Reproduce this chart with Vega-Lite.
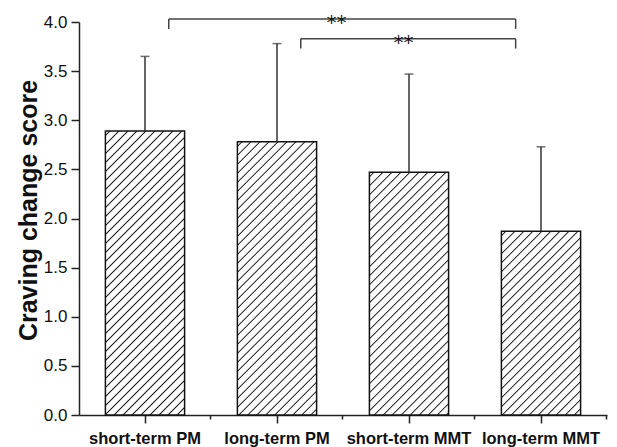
{
  "$schema": "https://vega.github.io/schema/vega-lite/v6.json",
  "width": 528,
  "height": 393,
  "autosize": "none",
  "padding": {"left": 79, "top": 22, "right": 10, "bottom": 32},
  "background": "white",
  "config": {"view": {"stroke": null}, "font": "Liberation Sans"},
  "datasets": {
    "bars": [
      {"group": "short-term PM", "mean": 2.89, "upper": 3.65},
      {"group": "long-term PM", "mean": 2.78, "upper": 3.78},
      {"group": "short-term MMT", "mean": 2.47, "upper": 3.47},
      {"group": "long-term MMT", "mean": 1.87, "upper": 2.73}
    ],
    "brackets": [
      {"id": 1, "from": "short-term PM", "to": "long-term MMT", "level": 4.03, "end": 3.93, "label": "**"},
      {"id": 2, "from": "long-term PM", "to": "long-term MMT", "level": 3.83, "end": 3.73, "label": "**"}
    ]
  },
  "resolve": {"axis": {"x": "independent"}},
  "layer": [
    {
      "data": {"name": "bars"},
      "mark": {"type": "bar", "stroke": "#111", "strokeWidth": 1.5},
      "encoding": {
        "x": {
          "field": "group", "type": "nominal", "sort": null,
          "scale": {"domain": ["short-term PM", "long-term PM", "short-term MMT", "long-term MMT"], "paddingInner": 0.4, "paddingOuter": 0.2},
          "axis": {"orient": "bottom", "title": null, "labelAngle": 0, "labelFont": "Liberation Sans", "labelFontWeight": "bold", "labelFontSize": 16.5, "labelColor": "#111", "labelPadding": 7, "tickSize": 8, "tickWidth": 1.5, "tickColor": "#222", "domainColor": "#222", "domainWidth": 1.5, "grid": false}
        },
        "y": {
          "field": "mean", "type": "quantitative",
          "scale": {"domain": [0, 4]},
          "axis": {
            "title": "Craving change score", "titleFont": "Liberation Sans", "titleFontSize": 25, "titleFontWeight": "bold", "titleColor": "#111", "titlePadding": 2, "titleY": 188,
            "values": [0, 0.25, 0.5, 0.75, 1, 1.25, 1.5, 1.75, 2, 2.25, 2.5, 2.75, 3, 3.25, 3.5, 3.75, 4],
            "labelExpr": "datum.value % 0.5 === 0 ? format(datum.value, '.1f') : ''",
            "labelFontSize": 17, "labelColor": "#111", "labelPadding": 4, "labelFont": "Liberation Sans",
            "tickSize": {"condition": {"test": "datum.value % 0.5 === 0", "value": 8}, "value": 4},
            "tickWidth": 1.5, "tickColor": "#222", "domainColor": "#222", "domainWidth": 1.5, "grid": false
          }
        },
        "fill": {
          "condition": [
            {"test": "datum.group === 'short-term PM'", "value": {"gradient": "linear", "x1": 0, "y1": 0, "x2": 0.4103, "y2": 1.4706, "stops": [{"offset":0,"color":"#fff"},{"offset":0.007,"color":"#fff"},{"offset":0.01,"color":"#1a1a1a"},{"offset":0.013,"color":"#fff"},{"offset":0.027,"color":"#fff"},{"offset":0.03,"color":"#1a1a1a"},{"offset":0.033,"color":"#fff"},{"offset":0.047,"color":"#fff"},{"offset":0.05,"color":"#1a1a1a"},{"offset":0.053,"color":"#fff"},{"offset":0.067,"color":"#fff"},{"offset":0.07,"color":"#1a1a1a"},{"offset":0.073,"color":"#fff"},{"offset":0.087,"color":"#fff"},{"offset":0.09,"color":"#1a1a1a"},{"offset":0.093,"color":"#fff"},{"offset":0.107,"color":"#fff"},{"offset":0.11,"color":"#1a1a1a"},{"offset":0.113,"color":"#fff"},{"offset":0.127,"color":"#fff"},{"offset":0.13,"color":"#1a1a1a"},{"offset":0.133,"color":"#fff"},{"offset":0.147,"color":"#fff"},{"offset":0.15,"color":"#1a1a1a"},{"offset":0.153,"color":"#fff"},{"offset":0.167,"color":"#fff"},{"offset":0.17,"color":"#1a1a1a"},{"offset":0.173,"color":"#fff"},{"offset":0.187,"color":"#fff"},{"offset":0.19,"color":"#1a1a1a"},{"offset":0.193,"color":"#fff"},{"offset":0.207,"color":"#fff"},{"offset":0.21,"color":"#1a1a1a"},{"offset":0.213,"color":"#fff"},{"offset":0.227,"color":"#fff"},{"offset":0.23,"color":"#1a1a1a"},{"offset":0.233,"color":"#fff"},{"offset":0.247,"color":"#fff"},{"offset":0.25,"color":"#1a1a1a"},{"offset":0.253,"color":"#fff"},{"offset":0.267,"color":"#fff"},{"offset":0.27,"color":"#1a1a1a"},{"offset":0.273,"color":"#fff"},{"offset":0.287,"color":"#fff"},{"offset":0.29,"color":"#1a1a1a"},{"offset":0.293,"color":"#fff"},{"offset":0.307,"color":"#fff"},{"offset":0.31,"color":"#1a1a1a"},{"offset":0.313,"color":"#fff"},{"offset":0.327,"color":"#fff"},{"offset":0.33,"color":"#1a1a1a"},{"offset":0.333,"color":"#fff"},{"offset":0.347,"color":"#fff"},{"offset":0.35,"color":"#1a1a1a"},{"offset":0.353,"color":"#fff"},{"offset":0.367,"color":"#fff"},{"offset":0.37,"color":"#1a1a1a"},{"offset":0.373,"color":"#fff"},{"offset":0.387,"color":"#fff"},{"offset":0.39,"color":"#1a1a1a"},{"offset":0.393,"color":"#fff"},{"offset":0.407,"color":"#fff"},{"offset":0.41,"color":"#1a1a1a"},{"offset":0.413,"color":"#fff"},{"offset":0.427,"color":"#fff"},{"offset":0.43,"color":"#1a1a1a"},{"offset":0.433,"color":"#fff"},{"offset":0.447,"color":"#fff"},{"offset":0.45,"color":"#1a1a1a"},{"offset":0.453,"color":"#fff"},{"offset":0.467,"color":"#fff"},{"offset":0.47,"color":"#1a1a1a"},{"offset":0.473,"color":"#fff"},{"offset":0.487,"color":"#fff"},{"offset":0.49,"color":"#1a1a1a"},{"offset":0.493,"color":"#fff"},{"offset":0.507,"color":"#fff"},{"offset":0.51,"color":"#1a1a1a"},{"offset":0.513,"color":"#fff"},{"offset":0.527,"color":"#fff"},{"offset":0.53,"color":"#1a1a1a"},{"offset":0.533,"color":"#fff"},{"offset":0.547,"color":"#fff"},{"offset":0.55,"color":"#1a1a1a"},{"offset":0.553,"color":"#fff"},{"offset":0.567,"color":"#fff"},{"offset":0.57,"color":"#1a1a1a"},{"offset":0.573,"color":"#fff"},{"offset":0.587,"color":"#fff"},{"offset":0.59,"color":"#1a1a1a"},{"offset":0.593,"color":"#fff"},{"offset":0.607,"color":"#fff"},{"offset":0.61,"color":"#1a1a1a"},{"offset":0.613,"color":"#fff"},{"offset":0.627,"color":"#fff"},{"offset":0.63,"color":"#1a1a1a"},{"offset":0.633,"color":"#fff"},{"offset":0.647,"color":"#fff"},{"offset":0.65,"color":"#1a1a1a"},{"offset":0.653,"color":"#fff"},{"offset":0.667,"color":"#fff"},{"offset":0.67,"color":"#1a1a1a"},{"offset":0.673,"color":"#fff"},{"offset":0.687,"color":"#fff"},{"offset":0.69,"color":"#1a1a1a"},{"offset":0.693,"color":"#fff"},{"offset":0.707,"color":"#fff"},{"offset":0.71,"color":"#1a1a1a"},{"offset":0.713,"color":"#fff"},{"offset":0.727,"color":"#fff"},{"offset":0.73,"color":"#1a1a1a"},{"offset":0.733,"color":"#fff"},{"offset":0.747,"color":"#fff"},{"offset":0.75,"color":"#1a1a1a"},{"offset":0.753,"color":"#fff"},{"offset":0.767,"color":"#fff"},{"offset":0.77,"color":"#1a1a1a"},{"offset":0.773,"color":"#fff"},{"offset":0.787,"color":"#fff"},{"offset":0.79,"color":"#1a1a1a"},{"offset":0.793,"color":"#fff"},{"offset":0.807,"color":"#fff"},{"offset":0.81,"color":"#1a1a1a"},{"offset":0.813,"color":"#fff"},{"offset":1,"color":"#fff"}]}},
            {"test": "datum.group === 'long-term PM'", "value": {"gradient": "linear", "x1": 0, "y1": 0, "x2": 0.4408, "y2": 1.5199, "stops": [{"offset":0,"color":"#fff"},{"offset":0.007,"color":"#fff"},{"offset":0.01,"color":"#1a1a1a"},{"offset":0.013,"color":"#fff"},{"offset":0.027,"color":"#fff"},{"offset":0.03,"color":"#1a1a1a"},{"offset":0.033,"color":"#fff"},{"offset":0.047,"color":"#fff"},{"offset":0.05,"color":"#1a1a1a"},{"offset":0.053,"color":"#fff"},{"offset":0.067,"color":"#fff"},{"offset":0.07,"color":"#1a1a1a"},{"offset":0.073,"color":"#fff"},{"offset":0.087,"color":"#fff"},{"offset":0.09,"color":"#1a1a1a"},{"offset":0.093,"color":"#fff"},{"offset":0.107,"color":"#fff"},{"offset":0.11,"color":"#1a1a1a"},{"offset":0.113,"color":"#fff"},{"offset":0.127,"color":"#fff"},{"offset":0.13,"color":"#1a1a1a"},{"offset":0.133,"color":"#fff"},{"offset":0.147,"color":"#fff"},{"offset":0.15,"color":"#1a1a1a"},{"offset":0.153,"color":"#fff"},{"offset":0.167,"color":"#fff"},{"offset":0.17,"color":"#1a1a1a"},{"offset":0.173,"color":"#fff"},{"offset":0.187,"color":"#fff"},{"offset":0.19,"color":"#1a1a1a"},{"offset":0.193,"color":"#fff"},{"offset":0.207,"color":"#fff"},{"offset":0.21,"color":"#1a1a1a"},{"offset":0.213,"color":"#fff"},{"offset":0.227,"color":"#fff"},{"offset":0.23,"color":"#1a1a1a"},{"offset":0.233,"color":"#fff"},{"offset":0.247,"color":"#fff"},{"offset":0.25,"color":"#1a1a1a"},{"offset":0.253,"color":"#fff"},{"offset":0.267,"color":"#fff"},{"offset":0.27,"color":"#1a1a1a"},{"offset":0.273,"color":"#fff"},{"offset":0.287,"color":"#fff"},{"offset":0.29,"color":"#1a1a1a"},{"offset":0.293,"color":"#fff"},{"offset":0.307,"color":"#fff"},{"offset":0.31,"color":"#1a1a1a"},{"offset":0.313,"color":"#fff"},{"offset":0.327,"color":"#fff"},{"offset":0.33,"color":"#1a1a1a"},{"offset":0.333,"color":"#fff"},{"offset":0.347,"color":"#fff"},{"offset":0.35,"color":"#1a1a1a"},{"offset":0.353,"color":"#fff"},{"offset":0.367,"color":"#fff"},{"offset":0.37,"color":"#1a1a1a"},{"offset":0.373,"color":"#fff"},{"offset":0.387,"color":"#fff"},{"offset":0.39,"color":"#1a1a1a"},{"offset":0.393,"color":"#fff"},{"offset":0.407,"color":"#fff"},{"offset":0.41,"color":"#1a1a1a"},{"offset":0.413,"color":"#fff"},{"offset":0.427,"color":"#fff"},{"offset":0.43,"color":"#1a1a1a"},{"offset":0.433,"color":"#fff"},{"offset":0.447,"color":"#fff"},{"offset":0.45,"color":"#1a1a1a"},{"offset":0.453,"color":"#fff"},{"offset":0.467,"color":"#fff"},{"offset":0.47,"color":"#1a1a1a"},{"offset":0.473,"color":"#fff"},{"offset":0.487,"color":"#fff"},{"offset":0.49,"color":"#1a1a1a"},{"offset":0.493,"color":"#fff"},{"offset":0.507,"color":"#fff"},{"offset":0.51,"color":"#1a1a1a"},{"offset":0.513,"color":"#fff"},{"offset":0.527,"color":"#fff"},{"offset":0.53,"color":"#1a1a1a"},{"offset":0.533,"color":"#fff"},{"offset":0.547,"color":"#fff"},{"offset":0.55,"color":"#1a1a1a"},{"offset":0.553,"color":"#fff"},{"offset":0.567,"color":"#fff"},{"offset":0.57,"color":"#1a1a1a"},{"offset":0.573,"color":"#fff"},{"offset":0.587,"color":"#fff"},{"offset":0.59,"color":"#1a1a1a"},{"offset":0.593,"color":"#fff"},{"offset":0.607,"color":"#fff"},{"offset":0.61,"color":"#1a1a1a"},{"offset":0.613,"color":"#fff"},{"offset":0.627,"color":"#fff"},{"offset":0.63,"color":"#1a1a1a"},{"offset":0.633,"color":"#fff"},{"offset":0.647,"color":"#fff"},{"offset":0.65,"color":"#1a1a1a"},{"offset":0.653,"color":"#fff"},{"offset":0.667,"color":"#fff"},{"offset":0.67,"color":"#1a1a1a"},{"offset":0.673,"color":"#fff"},{"offset":0.687,"color":"#fff"},{"offset":0.69,"color":"#1a1a1a"},{"offset":0.693,"color":"#fff"},{"offset":0.707,"color":"#fff"},{"offset":0.71,"color":"#1a1a1a"},{"offset":0.713,"color":"#fff"},{"offset":0.727,"color":"#fff"},{"offset":0.73,"color":"#1a1a1a"},{"offset":0.733,"color":"#fff"},{"offset":0.747,"color":"#fff"},{"offset":0.75,"color":"#1a1a1a"},{"offset":0.753,"color":"#fff"},{"offset":0.767,"color":"#fff"},{"offset":0.77,"color":"#1a1a1a"},{"offset":0.773,"color":"#fff"},{"offset":0.787,"color":"#fff"},{"offset":0.79,"color":"#1a1a1a"},{"offset":0.793,"color":"#fff"},{"offset":0.807,"color":"#fff"},{"offset":0.81,"color":"#1a1a1a"},{"offset":0.813,"color":"#fff"},{"offset":1,"color":"#fff"}]}},
            {"test": "datum.group === 'short-term MMT'", "value": {"gradient": "linear", "x1": 0, "y1": 0, "x2": 0.5468, "y2": 1.6757, "stops": [{"offset":0,"color":"#fff"},{"offset":0.007,"color":"#fff"},{"offset":0.01,"color":"#1a1a1a"},{"offset":0.013,"color":"#fff"},{"offset":0.027,"color":"#fff"},{"offset":0.03,"color":"#1a1a1a"},{"offset":0.033,"color":"#fff"},{"offset":0.047,"color":"#fff"},{"offset":0.05,"color":"#1a1a1a"},{"offset":0.053,"color":"#fff"},{"offset":0.067,"color":"#fff"},{"offset":0.07,"color":"#1a1a1a"},{"offset":0.073,"color":"#fff"},{"offset":0.087,"color":"#fff"},{"offset":0.09,"color":"#1a1a1a"},{"offset":0.093,"color":"#fff"},{"offset":0.107,"color":"#fff"},{"offset":0.11,"color":"#1a1a1a"},{"offset":0.113,"color":"#fff"},{"offset":0.127,"color":"#fff"},{"offset":0.13,"color":"#1a1a1a"},{"offset":0.133,"color":"#fff"},{"offset":0.147,"color":"#fff"},{"offset":0.15,"color":"#1a1a1a"},{"offset":0.153,"color":"#fff"},{"offset":0.167,"color":"#fff"},{"offset":0.17,"color":"#1a1a1a"},{"offset":0.173,"color":"#fff"},{"offset":0.187,"color":"#fff"},{"offset":0.19,"color":"#1a1a1a"},{"offset":0.193,"color":"#fff"},{"offset":0.207,"color":"#fff"},{"offset":0.21,"color":"#1a1a1a"},{"offset":0.213,"color":"#fff"},{"offset":0.227,"color":"#fff"},{"offset":0.23,"color":"#1a1a1a"},{"offset":0.233,"color":"#fff"},{"offset":0.247,"color":"#fff"},{"offset":0.25,"color":"#1a1a1a"},{"offset":0.253,"color":"#fff"},{"offset":0.267,"color":"#fff"},{"offset":0.27,"color":"#1a1a1a"},{"offset":0.273,"color":"#fff"},{"offset":0.287,"color":"#fff"},{"offset":0.29,"color":"#1a1a1a"},{"offset":0.293,"color":"#fff"},{"offset":0.307,"color":"#fff"},{"offset":0.31,"color":"#1a1a1a"},{"offset":0.313,"color":"#fff"},{"offset":0.327,"color":"#fff"},{"offset":0.33,"color":"#1a1a1a"},{"offset":0.333,"color":"#fff"},{"offset":0.347,"color":"#fff"},{"offset":0.35,"color":"#1a1a1a"},{"offset":0.353,"color":"#fff"},{"offset":0.367,"color":"#fff"},{"offset":0.37,"color":"#1a1a1a"},{"offset":0.373,"color":"#fff"},{"offset":0.387,"color":"#fff"},{"offset":0.39,"color":"#1a1a1a"},{"offset":0.393,"color":"#fff"},{"offset":0.407,"color":"#fff"},{"offset":0.41,"color":"#1a1a1a"},{"offset":0.413,"color":"#fff"},{"offset":0.427,"color":"#fff"},{"offset":0.43,"color":"#1a1a1a"},{"offset":0.433,"color":"#fff"},{"offset":0.447,"color":"#fff"},{"offset":0.45,"color":"#1a1a1a"},{"offset":0.453,"color":"#fff"},{"offset":0.467,"color":"#fff"},{"offset":0.47,"color":"#1a1a1a"},{"offset":0.473,"color":"#fff"},{"offset":0.487,"color":"#fff"},{"offset":0.49,"color":"#1a1a1a"},{"offset":0.493,"color":"#fff"},{"offset":0.507,"color":"#fff"},{"offset":0.51,"color":"#1a1a1a"},{"offset":0.513,"color":"#fff"},{"offset":0.527,"color":"#fff"},{"offset":0.53,"color":"#1a1a1a"},{"offset":0.533,"color":"#fff"},{"offset":0.547,"color":"#fff"},{"offset":0.55,"color":"#1a1a1a"},{"offset":0.553,"color":"#fff"},{"offset":0.567,"color":"#fff"},{"offset":0.57,"color":"#1a1a1a"},{"offset":0.573,"color":"#fff"},{"offset":0.587,"color":"#fff"},{"offset":0.59,"color":"#1a1a1a"},{"offset":0.593,"color":"#fff"},{"offset":0.607,"color":"#fff"},{"offset":0.61,"color":"#1a1a1a"},{"offset":0.613,"color":"#fff"},{"offset":0.627,"color":"#fff"},{"offset":0.63,"color":"#1a1a1a"},{"offset":0.633,"color":"#fff"},{"offset":0.647,"color":"#fff"},{"offset":0.65,"color":"#1a1a1a"},{"offset":0.653,"color":"#fff"},{"offset":0.667,"color":"#fff"},{"offset":0.67,"color":"#1a1a1a"},{"offset":0.673,"color":"#fff"},{"offset":0.687,"color":"#fff"},{"offset":0.69,"color":"#1a1a1a"},{"offset":0.693,"color":"#fff"},{"offset":0.707,"color":"#fff"},{"offset":0.71,"color":"#1a1a1a"},{"offset":0.713,"color":"#fff"},{"offset":0.727,"color":"#fff"},{"offset":0.73,"color":"#1a1a1a"},{"offset":0.733,"color":"#fff"},{"offset":0.747,"color":"#fff"},{"offset":0.75,"color":"#1a1a1a"},{"offset":0.753,"color":"#fff"},{"offset":0.767,"color":"#fff"},{"offset":0.77,"color":"#1a1a1a"},{"offset":0.773,"color":"#fff"},{"offset":0.787,"color":"#fff"},{"offset":0.79,"color":"#1a1a1a"},{"offset":0.793,"color":"#fff"},{"offset":0.807,"color":"#fff"},{"offset":0.81,"color":"#1a1a1a"},{"offset":0.813,"color":"#fff"},{"offset":1,"color":"#fff"}]}},
            {"test": "datum.group === 'long-term MMT'", "value": {"gradient": "linear", "x1": 0, "y1": 0, "x2": 0.8906, "y2": 2.0657, "stops": [{"offset":0,"color":"#fff"},{"offset":0.007,"color":"#fff"},{"offset":0.01,"color":"#1a1a1a"},{"offset":0.013,"color":"#fff"},{"offset":0.027,"color":"#fff"},{"offset":0.03,"color":"#1a1a1a"},{"offset":0.033,"color":"#fff"},{"offset":0.047,"color":"#fff"},{"offset":0.05,"color":"#1a1a1a"},{"offset":0.053,"color":"#fff"},{"offset":0.067,"color":"#fff"},{"offset":0.07,"color":"#1a1a1a"},{"offset":0.073,"color":"#fff"},{"offset":0.087,"color":"#fff"},{"offset":0.09,"color":"#1a1a1a"},{"offset":0.093,"color":"#fff"},{"offset":0.107,"color":"#fff"},{"offset":0.11,"color":"#1a1a1a"},{"offset":0.113,"color":"#fff"},{"offset":0.127,"color":"#fff"},{"offset":0.13,"color":"#1a1a1a"},{"offset":0.133,"color":"#fff"},{"offset":0.147,"color":"#fff"},{"offset":0.15,"color":"#1a1a1a"},{"offset":0.153,"color":"#fff"},{"offset":0.167,"color":"#fff"},{"offset":0.17,"color":"#1a1a1a"},{"offset":0.173,"color":"#fff"},{"offset":0.187,"color":"#fff"},{"offset":0.19,"color":"#1a1a1a"},{"offset":0.193,"color":"#fff"},{"offset":0.207,"color":"#fff"},{"offset":0.21,"color":"#1a1a1a"},{"offset":0.213,"color":"#fff"},{"offset":0.227,"color":"#fff"},{"offset":0.23,"color":"#1a1a1a"},{"offset":0.233,"color":"#fff"},{"offset":0.247,"color":"#fff"},{"offset":0.25,"color":"#1a1a1a"},{"offset":0.253,"color":"#fff"},{"offset":0.267,"color":"#fff"},{"offset":0.27,"color":"#1a1a1a"},{"offset":0.273,"color":"#fff"},{"offset":0.287,"color":"#fff"},{"offset":0.29,"color":"#1a1a1a"},{"offset":0.293,"color":"#fff"},{"offset":0.307,"color":"#fff"},{"offset":0.31,"color":"#1a1a1a"},{"offset":0.313,"color":"#fff"},{"offset":0.327,"color":"#fff"},{"offset":0.33,"color":"#1a1a1a"},{"offset":0.333,"color":"#fff"},{"offset":0.347,"color":"#fff"},{"offset":0.35,"color":"#1a1a1a"},{"offset":0.353,"color":"#fff"},{"offset":0.367,"color":"#fff"},{"offset":0.37,"color":"#1a1a1a"},{"offset":0.373,"color":"#fff"},{"offset":0.387,"color":"#fff"},{"offset":0.39,"color":"#1a1a1a"},{"offset":0.393,"color":"#fff"},{"offset":0.407,"color":"#fff"},{"offset":0.41,"color":"#1a1a1a"},{"offset":0.413,"color":"#fff"},{"offset":0.427,"color":"#fff"},{"offset":0.43,"color":"#1a1a1a"},{"offset":0.433,"color":"#fff"},{"offset":0.447,"color":"#fff"},{"offset":0.45,"color":"#1a1a1a"},{"offset":0.453,"color":"#fff"},{"offset":0.467,"color":"#fff"},{"offset":0.47,"color":"#1a1a1a"},{"offset":0.473,"color":"#fff"},{"offset":0.487,"color":"#fff"},{"offset":0.49,"color":"#1a1a1a"},{"offset":0.493,"color":"#fff"},{"offset":0.507,"color":"#fff"},{"offset":0.51,"color":"#1a1a1a"},{"offset":0.513,"color":"#fff"},{"offset":0.527,"color":"#fff"},{"offset":0.53,"color":"#1a1a1a"},{"offset":0.533,"color":"#fff"},{"offset":0.547,"color":"#fff"},{"offset":0.55,"color":"#1a1a1a"},{"offset":0.553,"color":"#fff"},{"offset":0.567,"color":"#fff"},{"offset":0.57,"color":"#1a1a1a"},{"offset":0.573,"color":"#fff"},{"offset":0.587,"color":"#fff"},{"offset":0.59,"color":"#1a1a1a"},{"offset":0.593,"color":"#fff"},{"offset":0.607,"color":"#fff"},{"offset":0.61,"color":"#1a1a1a"},{"offset":0.613,"color":"#fff"},{"offset":1,"color":"#fff"}]}}
          ],
          "value": "#fff"
        }
      }
    },
    {
      "data": {"name": "bars"},
      "mark": {"type": "rule", "color": "#333", "strokeWidth": 1.5},
      "encoding": {
        "x": {"field": "group", "type": "nominal", "sort": null, "axis": {"orient": "bottom", "bandPosition": 1.3333, "labels": false, "domain": false, "tickSize": 4, "tickWidth": 1.5, "tickColor": "#222", "title": null, "grid": false}},
        "y": {"field": "mean", "type": "quantitative"},
        "y2": {"field": "upper"}
      }
    },
    {
      "data": {"name": "bars"},
      "mark": {"type": "tick", "color": "#333", "thickness": 1.5, "size": 9},
      "encoding": {
        "x": {"field": "group", "type": "nominal", "sort": null, "axis": null},
        "y": {"field": "upper", "type": "quantitative"}
      }
    },
    {
      "data": {"name": "brackets"},
      "mark": {"type": "rule", "color": "#444", "strokeWidth": 1.5},
      "encoding": {
        "x": {"field": "from", "type": "nominal", "bandPosition": 0.8, "axis": null},
        "x2": {"field": "to", "bandPosition": 0.18},
        "y": {"field": "level", "type": "quantitative"}
      }
    },
    {
      "data": {"name": "brackets"},
      "mark": {"type": "rule", "color": "#444", "strokeWidth": 1.5},
      "encoding": {
        "x": {"field": "from", "type": "nominal", "bandPosition": 0.8, "axis": null},
        "y": {"field": "level", "type": "quantitative"},
        "y2": {"field": "end"}
      }
    },
    {
      "data": {"name": "brackets"},
      "mark": {"type": "rule", "color": "#444", "strokeWidth": 1.5},
      "encoding": {
        "x": {"field": "to", "type": "nominal", "bandPosition": 0.18, "axis": null},
        "y": {"field": "level", "type": "quantitative"},
        "y2": {"field": "end"}
      }
    },
    {
      "data": {"name": "brackets"},
      "transform": [{"filter": "datum.id === 1"}],
      "mark": {"type": "text", "fontSize": 20, "font": "DejaVu Sans", "color": "#111", "baseline": "alphabetic", "align": "center", "dy": 10},
      "encoding": {
        "x": {"field": "from", "type": "nominal", "bandPosition": 2.918, "axis": null},
        "y": {"field": "level", "type": "quantitative"},
        "text": {"field": "label"}
      }
    },
    {
      "data": {"name": "brackets"},
      "transform": [{"filter": "datum.id === 2"}],
      "mark": {"type": "text", "fontSize": 20, "font": "DejaVu Sans", "color": "#111", "baseline": "alphabetic", "align": "center", "dy": 10},
      "encoding": {
        "x": {"field": "from", "type": "nominal", "bandPosition": 2.097, "axis": null},
        "y": {"field": "level", "type": "quantitative"},
        "text": {"field": "label"}
      }
    }
  ]
}
